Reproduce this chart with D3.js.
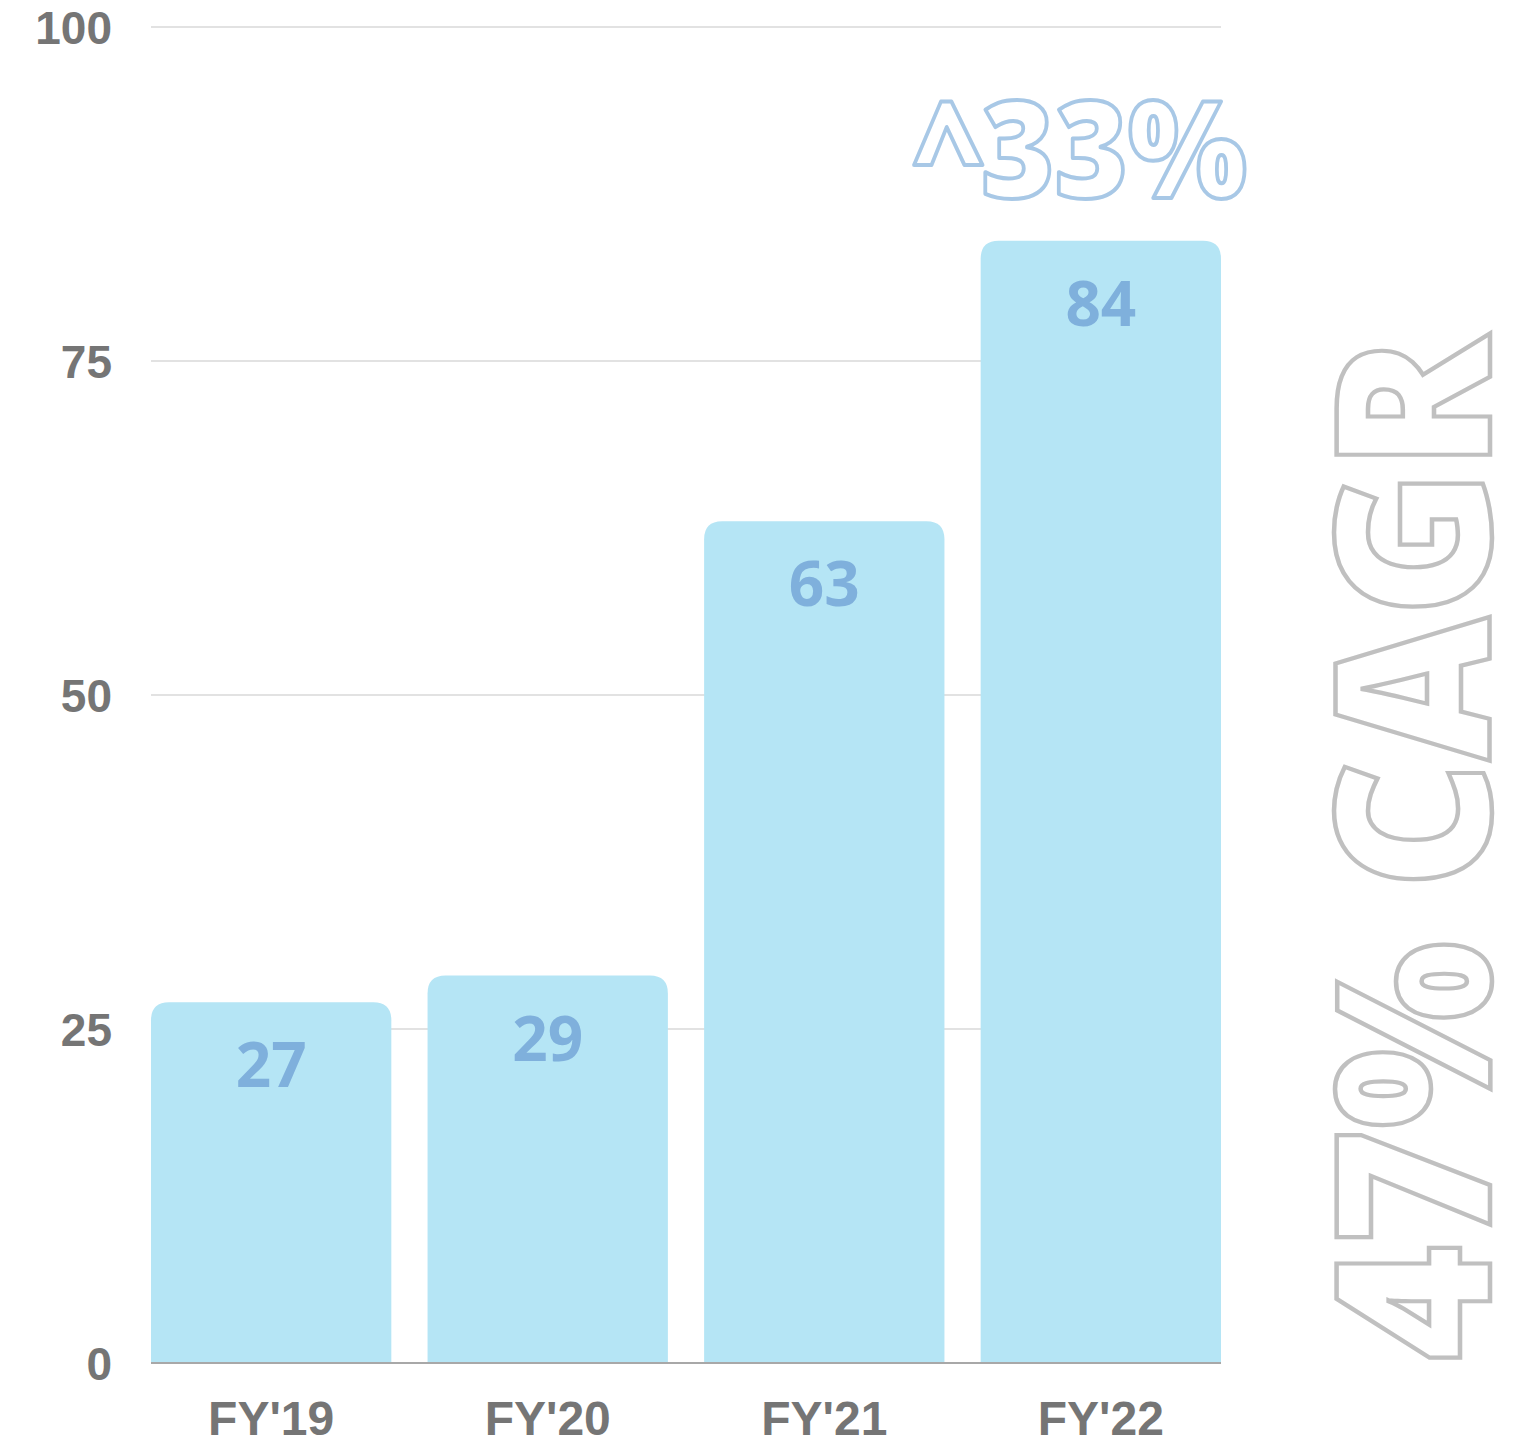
<!DOCTYPE html>
<html>
<head>
<meta charset="utf-8">
<script src="https://cdn.jsdelivr.net/npm/d3@7"></script>
<style>
  html, body { margin: 0; padding: 0; background: #ffffff; }
  svg { display: block; }
</style>
</head>
<body>
<svg id="chart" width="1521" height="1442"></svg>
<script>
// Revenue by fiscal year
const categories = ["FY'19", "FY'20", "FY'21", "FY'22"];
const values = [27, 29, 63, 84];
const yTicks = [0, 25, 50, 75, 100];
const growthLabel = "^33%";
const cagrLabel = "47% CAGR";

const svg = d3.select("#chart");
const margin = { left: 151, right: 300, top: 27, bottom: 79 };
const W = 1521, H = 1442;

const x = d3.scaleBand()
  .domain(categories)
  .range([margin.left, W - margin.right])
  .paddingInner(0.131)
  .paddingOuter(0);

const y = d3.scaleLinear()
  .domain([0, 100])
  .range([H - margin.bottom, margin.top]);

// Gridlines
svg.append("g")
  .selectAll("line")
  .data(yTicks.filter(t => t > 0))
  .join("line")
  .attr("x1", margin.left)
  .attr("x2", W - margin.right)
  .attr("y1", d => y(d))
  .attr("y2", d => y(d))
  .attr("stroke", "#d9d9d9")
  .attr("stroke-width", 1.5);

// Y axis labels
const yAxis = d3.axisLeft(y).tickValues(yTicks).tickSize(0).tickPadding(0);
const yg = svg.append("g")
  .attr("transform", `translate(${margin.left - 39},0)`)
  .call(yAxis);
yg.select(".domain").remove();
yg.selectAll("text")
  .attr("font-family", "'Liberation Sans', Arial, sans-serif")
  .attr("font-weight", 700)
  .attr("font-size", 46)
  .attr("fill", "#757575")
  .attr("dy", "0.36em")
  .attr("text-anchor", "end");

// Bars with rounded top corners
const r = 18;
function barPath(d, i) {
  const x0 = x(categories[i]);
  const x1 = x0 + x.bandwidth();
  const yt = y(d);
  const yb = y(0);
  return `M${x0},${yb} L${x0},${yt + r} Q${x0},${yt} ${x0 + r},${yt} ` +
         `L${x1 - r},${yt} Q${x1},${yt} ${x1},${yt + r} L${x1},${yb} Z`;
}
svg.append("g")
  .selectAll("path")
  .data(values)
  .join("path")
  .attr("d", (d, i) => barPath(d, i))
  .attr("fill", "#b5e5f5");

// Baseline
svg.append("line")
  .attr("x1", margin.left)
  .attr("x2", W - margin.right)
  .attr("y1", y(0))
  .attr("y2", y(0))
  .attr("stroke", "#a8a8a8")
  .attr("stroke-width", 2);

// Value labels inside bars
svg.append("g")
  .selectAll("text")
  .data(values)
  .join("text")
  .attr("x", (d, i) => x(categories[i]) + x.bandwidth() / 2)
  .attr("y", d => y(d) + 85)
  .attr("text-anchor", "middle")
  .attr("font-family", "'Open Sans', sans-serif")
  .attr("font-weight", 700)
  .attr("font-size", 62)
  .attr("fill", "#7fb0dc")
  .text(d => d);

// X axis labels
const xAxis = d3.axisBottom(x).tickSize(0).tickPadding(0);
const xg = svg.append("g")
  .attr("transform", `translate(0,${y(0)})`)
  .call(xAxis);
xg.select(".domain").remove();
xg.selectAll("text")
  .attr("font-family", "'Liberation Sans', Arial, sans-serif")
  .attr("font-weight", 700)
  .attr("font-size", 48)
  .attr("fill", "#757575")
  .attr("dy", 0)
  .attr("y", 72);

// Year-over-year growth callout (outlined)
svg.append("text")
  .attr("x", 1247)
  .attr("y", 198)
  .attr("text-anchor", "end")
  .attr("font-family", "'Open Sans', sans-serif")
  .attr("font-weight", 800)
  .attr("font-size", 134)
  .attr("textLength", 332)
  .attr("lengthAdjust", "spacingAndGlyphs")
  .attr("fill", "none")
  .attr("stroke", "#a8c8e6")
  .attr("stroke-width", 4)
  .attr("stroke-linejoin", "round")
  .text(growthLabel);

// CAGR callout, rotated along the right edge (outlined)
svg.append("text")
  .attr("transform", "translate(1490,1361) rotate(-90)")
  .attr("x", 0)
  .attr("y", 0)
  .attr("text-anchor", "start")
  .attr("font-family", "'Open Sans', sans-serif")
  .attr("font-weight", 800)
  .attr("font-size", 214)
  .attr("textLength", 1025)
  .attr("lengthAdjust", "spacingAndGlyphs")
  .attr("fill", "none")
  .attr("stroke", "#c0c0c0")
  .attr("stroke-width", 4.5)
  .attr("stroke-linejoin", "miter")
  .text(cagrLabel);
</script>
</body>
</html>
